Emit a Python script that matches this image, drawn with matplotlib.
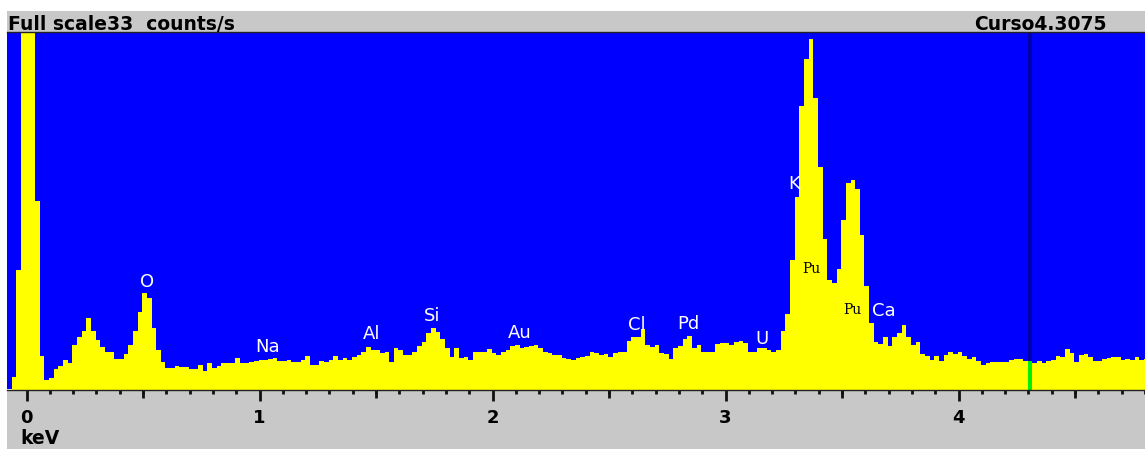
import numpy as np
import matplotlib
matplotlib.use('Agg')
import matplotlib.pyplot as plt
from matplotlib.patches import Rectangle
from matplotlib.ticker import MultipleLocator, NullLocator

# spectrum: counts/s per 20 eV channel, first channel starts at -0.0635 keV
chan_start = -0.0635  # keV
chan_width = 0.02  # keV
full_scale = 33  # counts/s
cursor_kev = 4.3075

counts = [
    1.15, 11.0, 48, 55, 42, 17.4, 3.1,
    0.9, 1.1, 1.9, 2.2, 2.7, 2.4, 4.1, 4.8, 5.4, 6.6,
    5.4, 4.6, 3.9, 3.5, 3.5, 2.8, 2.8, 3.3, 4.1, 5.4,
    7.1, 8.9, 8.4, 5.7, 3.6, 2.5, 2.0, 2.0, 2.2, 2.1,
    2.1, 1.9, 1.9, 2.3, 1.7, 2.4, 2.0, 2.2, 2.4, 2.4,
    2.4, 2.9, 2.4, 2.4, 2.5, 2.6, 2.7, 2.7, 2.8, 2.9,
    2.6, 2.6, 2.7, 2.5, 2.5,
    2.7, 3.1, 2.3, 2.3, 2.6, 2.5, 2.7, 3.1, 2.7, 2.9,
    2.7, 3.0, 3.2, 3.5, 3.9, 3.6, 3.6, 3.4, 3.5, 2.5,
    3.8, 3.6, 3.2, 3.2, 3.5, 4.0, 4.4, 5.2, 5.7, 5.3,
    4.7, 3.8, 3.0, 3.8, 2.9, 3.0, 2.7, 3.5, 3.5, 3.5,
    3.7, 3.4, 3.2, 3.5, 3.6, 4.0, 4.1, 3.8, 3.9, 4.0,
    4.1, 3.8, 3.5, 3.4, 3.2, 3.2, 2.9, 2.8, 2.7, 2.9,
    3.0, 3.1, 3.5, 3.4,
    3.2, 3.3, 3.0, 3.4, 3.5, 3.5, 4.5, 4.8, 4.8, 5.6,
    4.1, 3.9, 4.1, 3.4, 3.3, 2.8, 3.8, 4.0, 4.7, 4.9,
    3.8, 4.1, 3.5, 3.5, 3.5, 4.2, 4.3, 4.3, 4.1, 4.4,
    4.5, 4.3, 3.5, 3.5, 3.8,
    3.8, 3.6, 3.5, 3.6, 5.4, 7.0,
    11.9, 17.7, 26.1, 30.5, 32.3, 26.9, 20.5, 13.9, 10.1, 9.8,
    11.1, 15.6, 19.0, 19.3, 18.5, 14.2, 9.5, 6.1, 4.4, 4.2,
    4.8, 4.0, 4.8, 5.2, 5.9, 4.8, 4.1, 4.4, 3.3, 3.1,
    2.7, 3.1, 2.6, 3.2, 3.5, 3.3, 3.5, 3.1, 2.8, 3.0,
    2.6, 2.3, 2.4, 2.5, 2.5, 2.5, 2.5, 2.7, 2.8, 2.8,
    2.6, 2.6, 2.4, 2.6, 2.4, 2.6, 2.7, 3.1, 3.0, 3.7,
    3.4, 2.5, 3.2, 3.3, 3.0, 2.6, 2.6, 2.8, 2.9, 3.0,
    3.0, 2.7, 2.8, 2.7, 3.0, 2.7, 2.8,
]

# element markers
white_names = ['O', 'Na', 'Al', 'Si', 'Au', 'Cl', 'Pd', 'U', 'K', 'Ca']
white_kev = [0.517, 1.036, 1.483, 1.740, 2.118, 2.620, 2.839, 3.157, 3.294, 3.680]
white_y = [9.9, 3.9, 5.1, 6.8, 5.2, 5.9, 6.0, 4.7, 18.9, 7.2]
black_names = ['Pu', 'Pu']
black_kev = [3.367, 3.543]
black_y = [11.1, 7.3]

major_ticks = [0, 1, 2, 3, 4]
half_ticks = [0.5, 1.5, 2.5, 3.5, 4.5]

W, H = 1145, 449
fig = plt.figure(figsize=(W / 100, H / 100), dpi=100)
fig.patch.set_facecolor('white')
fig.add_artist(Rectangle((7 / W, 0), 1 - 7 / W, (H - 11) / H, transform=fig.transFigure,
                         facecolor='#c8c8c8', edgecolor='none', zorder=-5))

ax = fig.add_axes([7 / W, (H - 389.5) / H, (W - 7) / W, 358 / H])
ax.set_facecolor('#0000ff')

counts = np.array(counts)
edges = chan_start + chan_width * np.arange(len(counts) + 1)
ax.stairs(counts, edges, fill=True, color='#ffff00', lw=0)

# cursor channel
idx = int((cursor_kev - chan_start) // chan_width)
ax.stairs([counts[idx]], edges[idx:idx + 2], fill=True, color='#00f000', lw=0)
ax.bar(cursor_kev, full_scale - counts[idx], bottom=counts[idx], width=chan_width * 0.9,
       color='#0000a8', lw=0)

for n, e, y in zip(white_names, white_kev, white_y):
    ax.text(e, y, n, color='white', fontsize=13, ha='center', va='center')
for n, e, y in zip(black_names, black_kev, black_y):
    ax.text(e, y, n, color='black', fontsize=10, ha='center', va='center', family='DejaVu Serif')

ax.set_xlim(-0.0837, 4.8004)
ax.set_ylim(0, full_scale)
ax.set_yticks([])
ax.set_xticks(major_ticks)
ax.xaxis.set_minor_locator(MultipleLocator(0.1))
ax.tick_params(which='major', length=8, width=2, color='#111111', pad=6, labelsize=13)
ax.tick_params(which='minor', length=3, width=2, color='#111111')
for lab in ax.get_xticklabels():
    lab.set_fontweight('bold')
for s in ['left', 'right']:
    ax.spines[s].set_visible(False)
for s in ['top', 'bottom']:
    ax.spines[s].set_color('#222222')
    ax.spines[s].set_linewidth(1)

sec = ax.secondary_xaxis('bottom')
sec.set_xticks(half_ticks)
sec.xaxis.set_minor_locator(NullLocator())
sec.tick_params(length=6, width=2, color='#111111', labelbottom=False)
sec.spines['bottom'].set_visible(False)

fig.text(8 / W, (H - 30) / H, 'Full scale%d  counts/s' % full_scale, fontsize=13.5,
         fontweight='bold', va='baseline')
fig.text(1107 / W, (H - 30) / H, 'Curso%.4f' % cursor_kev, fontsize=13.5, fontweight='bold',
         va='baseline', ha='right')
fig.text(20 / W, (H - 438) / H, 'keV', fontsize=13.5, fontweight='bold', va='center')

fig.savefig('out.png', dpi=100, facecolor='white')
